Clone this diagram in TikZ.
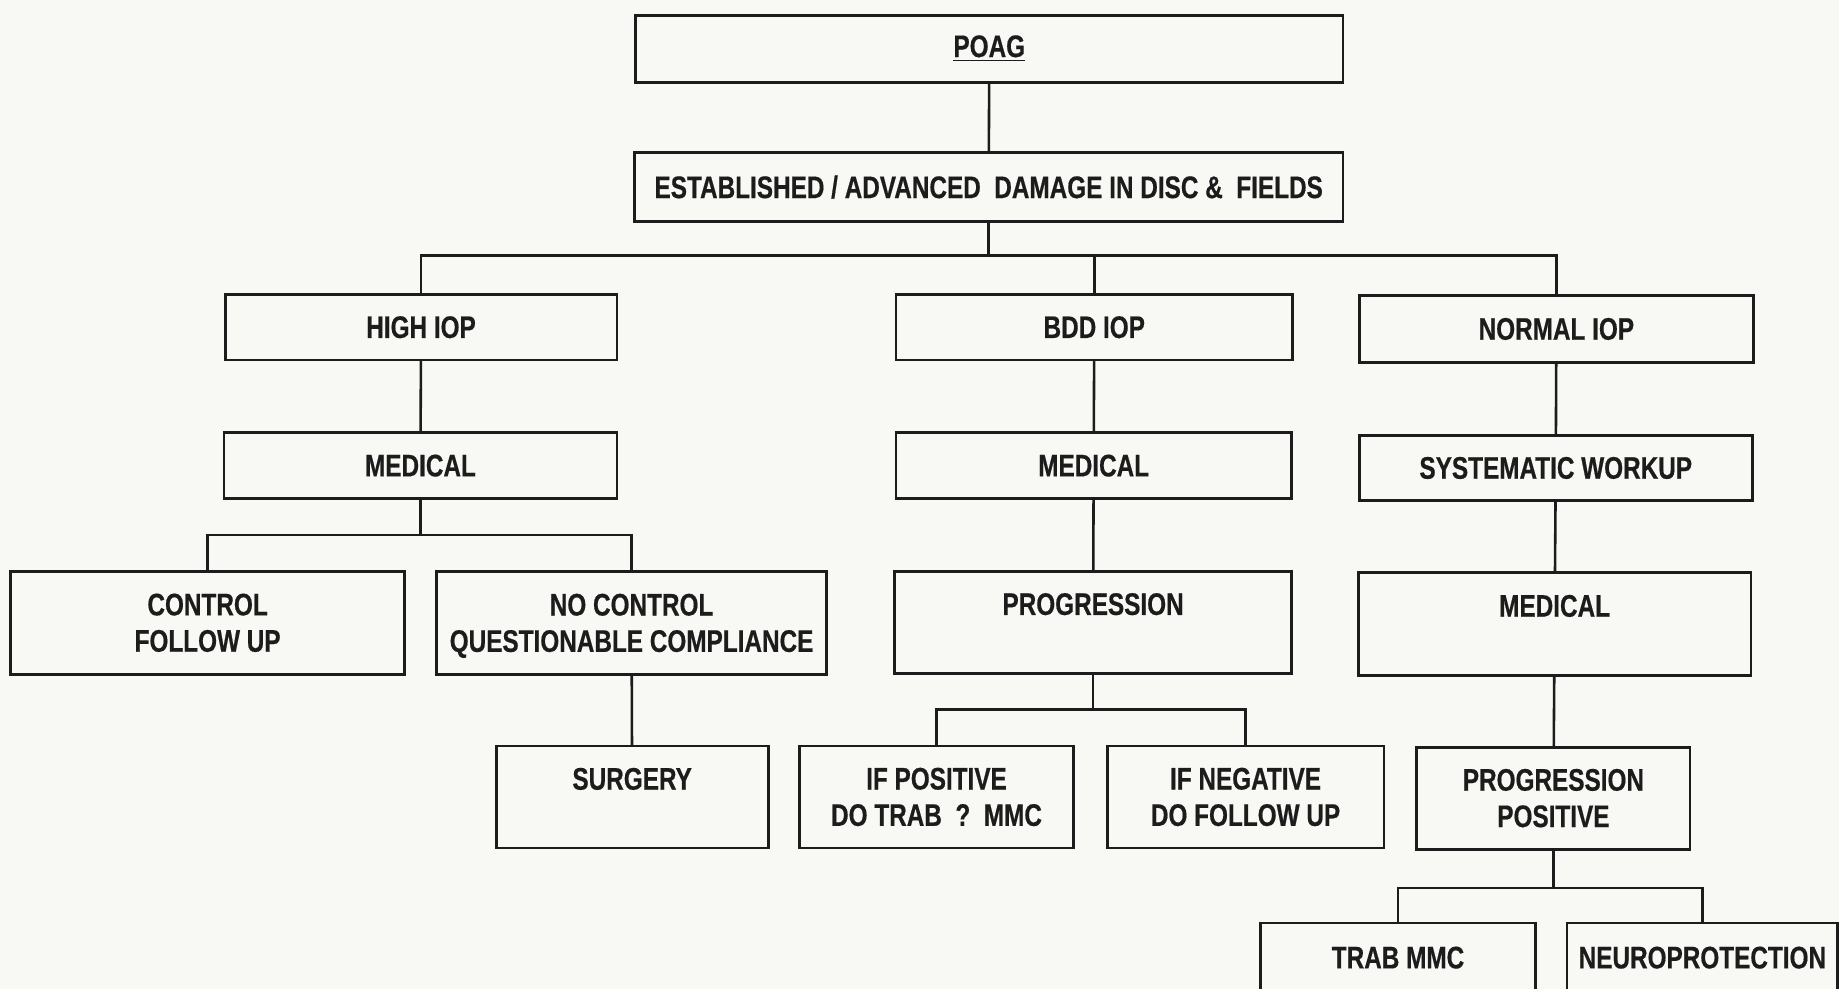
\documentclass[tikz,border=0pt]{standalone}
\usepackage{fontspec}
\setmainfont{Liberation Sans}[FakeStretch=0.78,FakeBold=0.5]
\definecolor{ink}{HTML}{1C1C1C}
\definecolor{paper}{HTML}{F8F8F4}
\tikzset{
  box/.style={draw=ink, line width=1.2pt, inner sep=0pt, outer sep=0pt,
    align=center, text=ink, font=\fontsize{13.3}{15.5}\selectfont\bfseries},
  link/.style={draw=ink, line width=1.1pt},
}
% \flowbox{name}{left}{top}{right}{bottom}{text}
\newcommand\flowbox[6]{%
  \node[box, minimum width={(#4-#2)*0.5pt}, minimum height={(#5-#3)*0.5pt}]
    (#1) at ({(#2+#4)/2},{(#3+#5)/2}) {#6};}
% a line whose descenders do not count in the box height
\newcommand\nodepth[1]{\raisebox{0pt}[\height][0pt]{#1}}
\begin{document}
\begin{tikzpicture}[x=0.5pt,y=-0.5pt]
\useasboundingbox (0,0) rectangle (1568,843);
\clip (0,0) rectangle (1568,843);
\fill[paper] (0,0) rectangle (1568,843);

% boxes
\flowbox{poag}{542}{13}{1145}{70}{\underline{POAG}}
\flowbox{est}{541}{130}{1145}{189}{ESTABLISHED / ADVANCED\ \ DAMAGE IN DISC \&\ \ FIELDS}
\flowbox{high}{192}{251}{526}{307}{HIGH IOP}
\flowbox{bdd}{764}{251}{1102}{307}{BDD IOP}
\flowbox{normal}{1159}{252}{1495}{309}{NORMAL IOP}
\flowbox{medA}{191}{369}{526}{425}{MEDICAL}
\flowbox{medB}{764}{369}{1101}{425}{MEDICAL}
\flowbox{sys}{1159}{371}{1494}{427}{SYSTEMATIC WORKUP}
\flowbox{ctrl}{9}{487}{345}{575}{CONTROL\\FOLLOW UP}
\flowbox{noctrl}{372}{487}{705}{575}{NO CONTROL\\\nodepth{QUESTIONABLE COMPLIANCE}}
\flowbox{prog}{763}{487}{1101}{574}{PROGRESSION\\\phantom{X}}
\flowbox{medC}{1158}{488}{1493}{576}{MEDICAL\\\phantom{X}}
\flowbox{surg}{423}{636}{655}{723}{SURGERY\\\phantom{X}}
\flowbox{ifpos}{682}{636}{915}{723}{IF POSITIVE\\DO TRAB\ \ ?\ \ MMC}
\flowbox{ifneg}{944}{636}{1180}{723}{IF NEGATIVE\\DO FOLLOW UP}
\flowbox{progpos}{1208}{637}{1441}{724}{PROGRESSION\\POSITIVE}
\flowbox{trab}{1075}{787}{1309}{846}{TRAB MMC}
\flowbox{neuro}{1336}{787}{1567}{846}{NEUROPROTECTION}

% junction points of the branching lines
\coordinate (j1) at (843,218);
\coordinate (j2) at (358.5,456);
\coordinate (j3) at (932,605);
\coordinate (j4) at (1324.5,757);

% connectors
\draw[link] (poag) -- (est);
\draw[link] (est) -- (j1);
\draw[link] (high.north) |- (j1) -| (normal.north);
\draw[link] (j1) -| (bdd.north);

\draw[link] (high) -- (medA);
\draw[link] (medA) -- (j2);
\draw[link] (ctrl.north) |- (j2) -| (noctrl.north);
\draw[link] (noctrl) -- (surg);

\draw[link] (bdd) -- (medB);
\draw[link] (medB) -- (prog);
\draw[link] (prog) -- (j3);
\draw[link] (ifpos.north) |- (j3) -| (ifneg.north);

\draw[link] (normal) -- (sys);
\draw[link] (sys) -- (medC);
\draw[link] (medC) -- (progpos);
\draw[link] (progpos) -- (j4);
\draw[link] (trab.north) |- (j4) -| (neuro.north);
\end{tikzpicture}
\end{document}
